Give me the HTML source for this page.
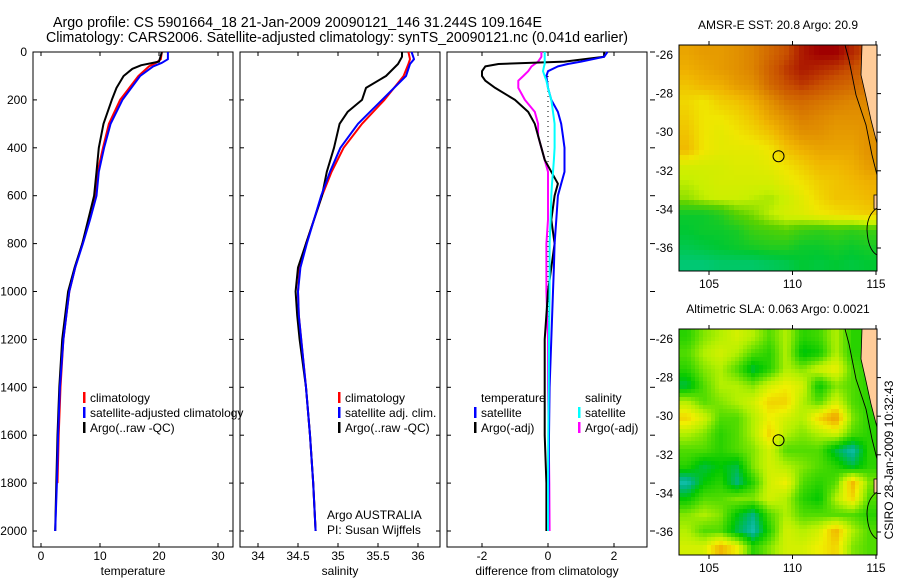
<!DOCTYPE html>
<html><head><meta charset="utf-8"><style>
body{margin:0;background:#fff}
svg text{font-family:"Liberation Sans",sans-serif;font-size:12px;fill:#000}
</style></head><body>
<svg id="fig" width="900" height="580" xmlns="http://www.w3.org/2000/svg">
<defs>
<clipPath id="c1"><rect x="679" y="45" width="198" height="226"/></clipPath>
<clipPath id="c2"><rect x="679" y="329" width="198" height="226"/></clipPath>
</defs>
<text x="53" y="27" style="font-size:14.5px" textLength="489" lengthAdjust="spacingAndGlyphs">Argo profile: CS 5901664_18 21-Jan-2009 20090121_146 31.244S 109.164E</text>
<text x="46" y="42" style="font-size:14.5px" textLength="582" lengthAdjust="spacingAndGlyphs">Climatology: CARS2006. Satellite-adjusted climatology: synTS_20090121.nc (0.041d earlier)</text>
<g id="g"></g>
</svg>
<script>
// ---- profile data (depth in dbar) ----
const tDepth=[0,30,45,60,100,200,300,400,500,600,700,800,900,1000,1200,1400,1600,1800];
const tClim=[20.5,20.3,19.5,18.3,16.5,13.4,11.5,10.5,9.6,9.3,8.2,7.0,5.8,4.8,3.8,3.3,3.0,2.8];
const tSatDepth=[0,30,45,60,100,200,300,400,500,600,700,800,900,1000,1200,1400,1600,1800,2000];
const tSat=[21.5,21.5,20.5,19.0,16.8,13.8,11.8,10.7,9.8,9.4,8.3,7.1,5.8,4.8,3.8,3.2,2.9,2.7,2.4];
const tArgoDepth=[0,40,55,70,100,150,200,300,400,500,600,700,800,900,1000,1200,1400,1600,1800,2000];
const tArgo=[20.5,20.0,17.0,15.5,14.0,12.8,12.0,10.6,9.8,9.4,9.0,8.0,7.0,5.7,4.6,3.6,3.1,2.8,2.6,2.4];
const sDepth=[0,30,50,100,200,300,400,500,600,700,800,900,1000,1100,1200,1400,1600,1800,2000];
const sClim=[35.88,35.9,35.88,35.82,35.58,35.3,35.07,34.92,34.8,34.7,34.6,34.52,34.5,34.51,34.54,34.6,34.65,34.69,34.72];
const sSat=[35.92,35.95,35.9,35.85,35.55,35.25,35.03,34.9,34.79,34.7,34.61,34.53,34.5,34.51,34.54,34.6,34.65,34.69,34.72];
const sArgoDepth=[0,20,50,100,150,200,250,300,400,500,600,700,800,900,1000,1100,1200,1400,1600,1800,2000];
const sArgo=[35.8,35.8,35.75,35.6,35.35,35.3,35.12,35.02,34.95,34.86,34.8,34.7,34.6,34.5,34.47,34.49,34.52,34.6,34.65,34.69,34.72];
const dDepth=[0,20,40,50,60,80,100,120,150,200,250,300,350,400,450,500,550,600,700,800,900,1000,1200,1400,1600,1800,2000];
const dTArgo=[1.7,1.7,0.5,-1.5,-1.9,-2.0,-2.0,-1.9,-1.6,-1.0,-0.6,-0.4,-0.3,-0.2,-0.1,0.1,0.3,0.2,0.1,0.2,0.1,0,-0.1,-0.1,-0.1,-0.05,-0.05];
const dTSat=[1.8,1.7,1.0,0.6,0.3,0.0,-0.05,-0.03,0,0.1,0.3,0.4,0.45,0.5,0.5,0.5,0.4,0.3,0.25,0.2,0.18,0.15,0.1,0.05,0.03,0.02,0];
const dSArgo=[-0.2,-0.2,-0.3,-0.4,-0.5,-0.6,-0.75,-0.9,-0.9,-0.7,-0.4,-0.3,-0.3,-0.2,-0.1,0,0,0,0,-0.05,-0.05,-0.05,0,0,0.02,0.04,0.05];
const dSSat=[-0.1,-0.1,-0.1,-0.1,-0.12,-0.15,-0.1,-0.05,0,0.1,0.15,0.2,0.2,0.2,0.18,0.15,0.12,0.1,0.08,0.05,0.05,0.05,0.03,0.02,0.01,0,0];
// ---- map grids (12 lon cols x 14 lat rows) ----
const sstGrid=[
[.68,.70,.70,.72,.75,.80,.85,.92,.95,.95,.90,.85],
[.66,.68,.70,.72,.75,.82,.88,.92,.90,.88,.85,.80],
[.62,.65,.66,.70,.72,.80,.85,.88,.85,.82,.80,.78],
[.58,.55,.60,.62,.66,.72,.78,.80,.78,.76,.74,.74],
[.60,.55,.55,.58,.62,.68,.72,.76,.74,.72,.72,.72],
[.62,.55,.52,.55,.58,.62,.68,.72,.72,.70,.70,.72],
[.64,.55,.52,.52,.52,.55,.62,.66,.68,.68,.68,.72],
[.48,.48,.48,.50,.50,.52,.56,.60,.64,.64,.66,.70],
[.44,.46,.48,.48,.48,.48,.52,.56,.60,.62,.64,.66],
[.40,.44,.46,.46,.44,.42,.46,.52,.58,.62,.62,.64],
[.22,.22,.26,.34,.38,.44,.48,.50,.54,.56,.58,.60],
[.20,.22,.22,.24,.30,.32,.34,.30,.28,.30,.28,.30],
[.16,.18,.20,.22,.24,.26,.26,.22,.22,.24,.22,.24],
[.10,.10,.12,.12,.12,.14,.16,.20,.18,.20,.18,.20]];
const slaGrid=[
[.25,.35,.40,.45,.40,.30,.40,.25,.28,.40,.25,.25],
[.30,.40,.45,.40,.30,.25,.40,.18,.22,.40,.25,.25],
[.25,.35,.40,.30,.15,.25,.40,.35,.45,.50,.30,.25],
[.15,.30,.40,.40,.35,.45,.50,.45,.20,.35,.30,.25],
[.40,.30,.35,.40,.45,.55,.55,.40,.30,.45,.30,.25],
[.55,.45,.30,.30,.40,.50,.45,.40,.55,.65,.35,.25],
[.40,.35,.25,.30,.40,.55,.40,.35,.40,.45,.30,.25],
[.30,.30,.25,.30,.35,.45,.30,.30,.30,.15,.05,.25],
[.25,.15,.20,.15,.35,.45,.40,.35,.30,.25,.15,.25],
[.05,.20,.25,.10,.25,.45,.50,.30,.25,.30,.60,.35],
[.20,.30,.30,.35,.35,.45,.40,.25,.20,.40,.55,.30],
[.35,.40,.35,.20,.10,.30,.40,.30,.30,.30,.30,.25],
[.40,.30,.30,.15,.05,.25,.45,.40,.45,.60,.40,.30],
[.45,.45,.60,.50,.25,.35,.45,.45,.50,.55,.35,.30]];
const depthTicks=[0,200,400,600,800,1000,1200,1400,1600,1800,2000];
const tTicks=[0,10,20,30], sTicks=[34,34.5,35,35.5,36], dTicks=[-2,0,2];
const latTicks=[-26,-28,-30,-32,-34,-36], lonTicks=[105,110,115];

const NS="http://www.w3.org/2000/svg", G=document.getElementById('g');
function el(t,a,p){const e=document.createElementNS(NS,t);for(const k in a)e.setAttribute(k,a[k]);(p||G).appendChild(e);return e;}
const TOP=52, Y=d=>TOP+d*(531-52)/2000;
const panels=[
 {x0:33,x1:233,X:v=>41+v*5.9,ticks:tTicks,lab:'temperature',n:'temperature-panel'},
 {x0:240,x1:440,X:v=>258+(v-34)*80,ticks:sTicks,lab:'salinity',n:'salinity-panel'},
 {x0:447,x1:647,X:v=>548+v*33,ticks:dTicks,lab:'difference from climatology',n:'difference-panel'}];
const BOT=547;
panels.forEach((p,i)=>{
 const g=el('g',{});
 
 
 p.g=g;
 const r=el('rect',{x:p.x0,y:TOP,width:p.x1-p.x0,height:BOT-TOP,fill:'none',stroke:'#000','stroke-width':1},g);
 
 
 depthTicks.forEach(d=>{
  el('line',{x1:p.x0,x2:p.x0+4,y1:Y(d),y2:Y(d),stroke:'#000'},g);
  if(i==2) el('line',{x1:p.x1+3,x2:p.x1+8,y1:Y(d),y2:Y(d),stroke:'#000'},g);
  else el('line',{x1:p.x1,x2:p.x1-4,y1:Y(d),y2:Y(d),stroke:'#000'},g);
  if(i==0){const t=el('text',{x:p.x0-6,y:Y(d)+4,'text-anchor':'end'},g);t.textContent=d;
   
   }
 });
 p.ticks.forEach(v=>{
  const x=p.X(v);
  el('line',{x1:x,x2:x,y1:TOP,y2:TOP+4,stroke:'#000'},g);
  el('line',{x1:x,x2:x,y1:BOT,y2:BOT-4,stroke:'#000'},g);
  const t=el('text',{x:x,y:BOT+13,'text-anchor':'middle'},g);t.textContent=v;
  
  
 });
 const t=el('text',{x:(p.x0+p.x1)/2,y:575,'text-anchor':'middle'},g);t.textContent=p.lab;
 
 
});
function line(p,ds,vs,col,name,w){
 const pts=ds.map((d,k)=>p.X(vs[k]).toFixed(1)+','+Y(d).toFixed(1)).join(' ');
 const e=el('polyline',{points:pts,fill:'none',stroke:col,'stroke-width':w||2,'stroke-linejoin':'round'},p.g);
 
 
}
const [P1,P2,P3]=panels;
line(P1,tDepth,tClim,'#f00','temperature-climatology-line');
line(P1,tArgoDepth,tArgo,'#000','temperature-argo-line');
line(P1,tSatDepth,tSat,'#00f','temperature-satellite-line');
line(P2,sDepth,sClim,'#f00','salinity-climatology-line');
line(P2,sArgoDepth,sArgo,'#000','salinity-argo-line');
line(P2,sDepth,sSat,'#00f','salinity-satellite-line');
const zl=el('line',{x1:P3.X(0),x2:P3.X(0),y1:Y(100),y2:Y(2000),stroke:'#000','stroke-dasharray':'1,4'},P3.g);


line(P3,dDepth,dSArgo,'#f0f','salinity-argo-difference-line');
line(P3,dDepth,dTArgo,'#000','temperature-argo-difference-line');
line(P3,dDepth,dTSat,'#00f','temperature-satellite-difference-line');
line(P3,dDepth,dSSat,'#0ff','salinity-satellite-difference-line');
function leg(g,x,y,col,txt){
 const gg=el('g',{},g);
 
 
 if(col)el('rect',{x:x-7,y:y-10,width:2.5,height:11,fill:col},gg);
 const t=el('text',{x:x,y:y},gg);t.textContent=txt;
}
leg(P1.g,90,402,'#f00','climatology');leg(P1.g,90,417,'#00f','satellite-adjusted climatology');leg(P1.g,90,432,'#000','Argo(..raw -QC)');
leg(P2.g,345,402,'#f00','climatology');leg(P2.g,345,417,'#00f','satellite adj. clim.');leg(P2.g,345,432,'#000','Argo(..raw -QC)');
leg(P3.g,481,402,null,'temperature');leg(P3.g,481,417,'#00f','satellite');leg(P3.g,481,432,'#000','Argo(-adj)');
leg(P3.g,585,402,null,'salinity');leg(P3.g,585,417,'#0ff','satellite');leg(P3.g,585,432,'#f0f','Argo(-adj)');
leg(P2.g,327,519,null,'Argo AUSTRALIA');leg(P2.g,327,534,null,'PI: Susan Wijffels');
// ---- maps ----
function cmap(stops,v){
 for(let i=1;i<stops.length;i++){if(v<=stops[i][0]||i==stops.length-1){
  const a=stops[i-1],b=stops[i],f=Math.max(0,Math.min(1,(v-a[0])/(b[0]-a[0])));
  const c=[0,1,2].map(k=>Math.round(a[1][k]+(b[1][k]-a[1][k])*f));return `rgb(${c})`;}}
}
const sstStops=[[0,[0,200,180]],[.2,[0,200,50]],[.35,[90,210,0]],[.45,[200,240,0]],[.55,[240,230,0]],[.65,[240,180,0]],[.75,[220,130,0]],[.85,[200,80,0]],[.95,[160,0,0]]];
const slaStops=[[0,[32,200,210]],[.1,[0,180,130]],[.2,[0,200,0]],[.3,[80,220,0]],[.4,[180,240,0]],[.5,[240,240,0]],[.6,[240,180,0]],[.7,[230,140,0]]];
const LX=lon=>709+(lon-105)*16.7;
function sample(grid,u,v){ // u in [0,12], v in [0,14] grid-cell coordinates
 const fx=Math.max(0,Math.min(11,u-0.5)), fy=Math.max(0,Math.min(13,v-0.5));
 const i=Math.min(10,Math.floor(fx)), j=Math.min(12,Math.floor(fy)), a=fx-i, b=fy-j;
 return grid[j][i]*(1-a)*(1-b)+grid[j][i+1]*a*(1-b)+grid[j+1][i]*(1-a)*b+grid[j+1][i+1]*a*b;
}
function drawMap(oy,grid,stops,title,name,clip,px){
 const g=el('g',{});
 
 
 const LY=lat=>oy+(-lat-26)*19.3;
 const x0=679,y0=oy-10,w=198,h=226;
 const gc=el('g',{'clip-path':'url(#'+clip+')'},g);
 for(let y=y0;y<y0+h;y+=px)for(let x=x0;x<x0+w;x+=px){
  const v=sample(grid,(x+px/2-x0)/w*12,(y+px/2-y0)/h*14);
  el('rect',{x:x,y:y,width:px+0.5,height:px+0.5,fill:cmap(stops,v)},gc);
 }
 const land=el('polygon',{points:`862,${y0} 880,${y0} 880,${y0+110} 871,${y0+75} 866,${y0+52} 861,${y0+30}`,fill:'#ffcc99',stroke:'#000','stroke-width':0.8},gc);
 
 
 el('rect',{x:874,y:y0+150,width:4,height:14,fill:'#ffcc99',stroke:'#000','stroke-width':0.8},gc);
 el('path',{d:`M845,${y0} L849,${y0+15} L856,${y0+50} L866,${y0+80} L872,${y0+110} L877,${y0+130} M877,${y0+163} Q867,${y0+170} 867,${y0+185} Q868,${y0+205} 877,${y0+210}`,fill:'none',stroke:'#000','stroke-width':0.9},gc);
 const ci=el('circle',{cx:LX(109.164),cy:LY(-31.244),r:5.5,fill:'none',stroke:'#000','stroke-width':1},g);
 
 
 el('rect',{x:x0,y:y0,width:w,height:h,fill:'none',stroke:'#000'},g);
 latTicks.forEach(l=>{const y=LY(l);el('line',{x1:x0+w,x2:x0+w+4,y1:y,y2:y,stroke:'#000'},g);
  const t=el('text',{x:x0-6,y:y+4,'text-anchor':'end'},g);t.textContent=l;
  
  });
 lonTicks.forEach(l=>{const x=LX(l);el('line',{x1:x,x2:x,y1:y0,y2:y0-4,stroke:'#000'},g);el('line',{x1:x,x2:x,y1:y0+h,y2:y0+h+4,stroke:'#000'},g);
  const t=el('text',{x:x,y:y0+h+17,'text-anchor':'middle'},g);t.textContent=l;
  
  });
 const t=el('text',{x:778,y:y0-16,'text-anchor':'middle'},g);t.textContent=title;
 
 
}
drawMap(55,sstGrid,sstStops,'AMSR-E SST: 20.8 Argo: 20.9','sst-map','c1',5);
drawMap(339,slaGrid,slaStops,'Altimetric SLA: 0.063 Argo: 0.0021','sla-map','c2',4);
const st=el('text',{x:0,y:0,transform:'translate(893,460) rotate(-90)','text-anchor':'middle'});
st.textContent='CSIRO 28-Jan-2009 10:32:43';


</script>
</body></html>
